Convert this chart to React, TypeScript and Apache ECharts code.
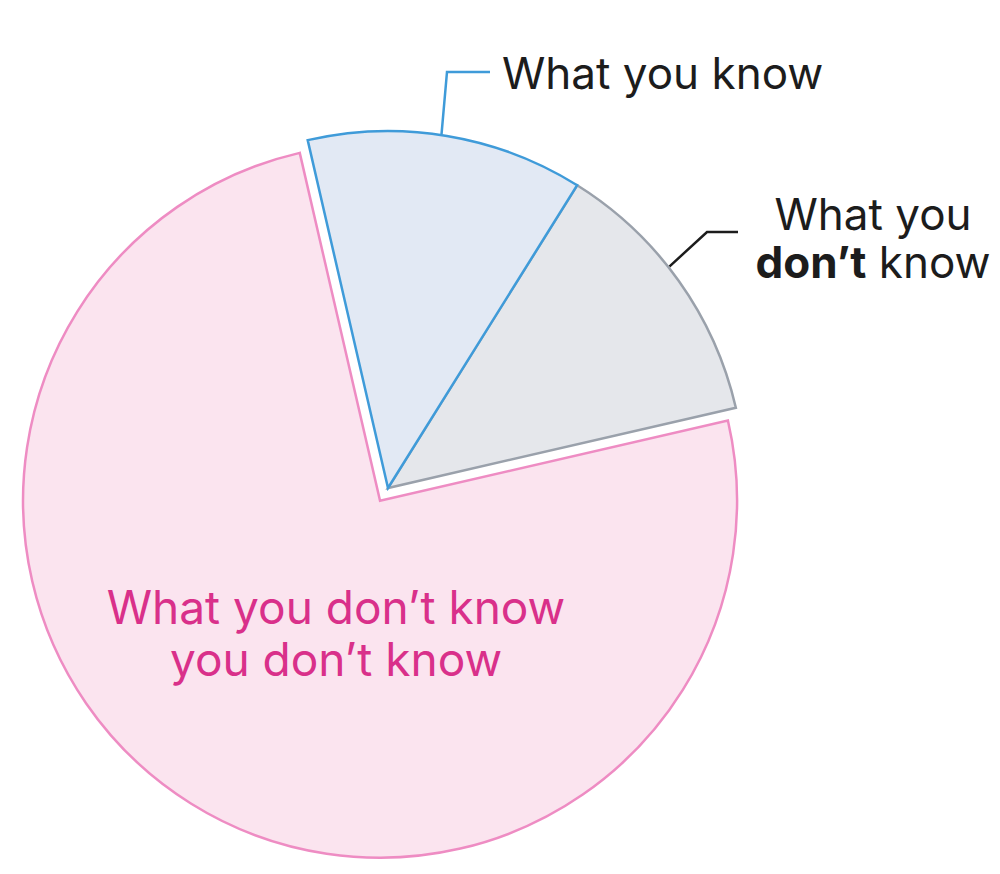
import React, { useEffect, useRef } from "react";
import * as echarts from "echarts";

// Slices are listed in drawing order (counter-clockwise from START_ANGLE)
const categories = [
  "What you don’t know you don’t know",
  "What you don’t know",
  "What you know",
];
const shares = [75, 12.5, 12.5];
const fills = ["#fbe4ef", "#e5e7eb", "#e2e9f4"];
const borders = ["#ee8cc3", "#9aa1ab", "#3f9bd9"];
// where along each slice's arc its leader line starts (0 = start, 1 = end)
const leaderAnchor = [0.5, 0.56, 0.52];
// the big slice is pulled away from the others along its bisector
const explodedSlice = 0;
const explodeOffset = 15;

const CENTER: [number, number] = [388, 488];
const RADIUS = 357;
const START_ANGLE = 103;
const FONT = "Inter, 'Noto Sans', sans-serif";
const INK = "#1c1c1c";
const PINK_TEXT = "#d9308a";

// angle (degrees, counter-clockwise) at a fraction t along slice i
function sliceAngle(i: number, t: number): number {
  const total = shares.reduce((a, b) => a + b, 0);
  let acc = 0;
  for (let k = 0; k < i; k++) acc += shares[k];
  return START_ANGLE + ((acc + shares[i] * t) / total) * 360;
}

function polar(c: [number, number], r: number, deg: number): [number, number] {
  const a = (deg * Math.PI) / 180;
  return [c[0] + r * Math.cos(a), c[1] - r * Math.sin(a)];
}

function arcPoint(i: number, extra = 1): [number, number] {
  return polar(CENTER, RADIUS + extra, sliceAngle(i, leaderAnchor[i]));
}

const explodedCenter = polar(CENTER, explodeOffset, sliceAngle(explodedSlice, 0.5));

export default function App() {
  const ref = useRef<HTMLDivElement>(null);

  useEffect(() => {
    if (!ref.current) return;
    const chart = echarts.init(ref.current, null, { renderer: "svg" });

    const labelFor = (i: number) => {
      if (i === 0) {
        return {
          show: true,
          position: "outside",
          overflow: "none",
          formatter: "What you don’t know\nyou don’t know",
          color: PINK_TEXT,
          fontFamily: FONT,
          fontSize: 46,
          lineHeight: 52,
          align: "center",
        };
      }
      if (i === 1) {
        return {
          show: true,
          position: "outside",
          overflow: "none",
          formatter: "{n|What you}\n{b|don’t}{n| know}",
          rich: {
            n: { color: INK, fontFamily: FONT, fontSize: 44, lineHeight: 48 },
            b: {
              color: INK,
              fontFamily: FONT,
              fontSize: 44,
              fontWeight: "bold",
              lineHeight: 48,
            },
          },
          align: "center",
        };
      }
      return {
        show: true,
        position: "outside",
        overflow: "none",
        formatter: "What you know",
        color: INK,
        fontFamily: FONT,
        fontSize: 44,
      };
    };

    const lineColor = [PINK_TEXT, INK, borders[2]];

    // one pie per centre: the exploded slice in its own pie, the rest in another;
    // slices that belong to the other pie are kept as invisible spacers
    const makeData = (visible: (i: number) => boolean) =>
      categories.map((name, i) =>
        visible(i)
          ? {
              name,
              value: shares[i],
              itemStyle: {
                color: fills[i],
                borderColor: borders[i],
                borderWidth: 2.5,
                borderJoin: "miter",
              },
              label: labelFor(i),
              labelLine: {
                show: i !== 0,
                lineStyle: { color: lineColor[i], width: 2.5 },
              },
            }
          : {
              name,
              value: shares[i],
              itemStyle: { color: "none", borderWidth: 0 },
              label: { show: false },
              labelLine: { show: false },
            }
      );

    const common = {
      type: "pie",
      radius: RADIUS,
      startAngle: START_ANGLE,
      clockwise: false,
      avoidLabelOverlap: false,
      silent: true,
      emphasis: { disabled: true },
    };

    chart.setOption({
      animation: false,
      backgroundColor: "#ffffff",
      series: [
        {
          ...common,
          center: explodedCenter,
          data: makeData((i) => i === explodedSlice),
          labelLayout: (params: any) =>
            params.dataIndex === 0
              ? { x: 336, y: 633, align: "center", verticalAlign: "middle" }
              : {},
        },
        {
          ...common,
          center: CENTER,
          data: makeData((i) => i !== explodedSlice),
          labelLayout: (params: any) => {
            const i = params.dataIndex;
            if (i === 1) {
              return {
                x: 873,
                y: 238,
                align: "center",
                verticalAlign: "middle",
                labelLinePoints: [arcPoint(1), [707, 232], [738, 232]],
              };
            }
            if (i === 2) {
              return {
                x: 502,
                y: 73,
                align: "left",
                verticalAlign: "middle",
                labelLinePoints: [arcPoint(2), [447, 72], [490, 72]],
              };
            }
            return {};
          },
        },
      ],
    });

    return () => chart.dispose();
  }, []);

  return (
    <div
      ref={ref}
      style={{ position: "fixed", left: 0, top: 0, width: 1000, height: 874 }}
    />
  );
}
